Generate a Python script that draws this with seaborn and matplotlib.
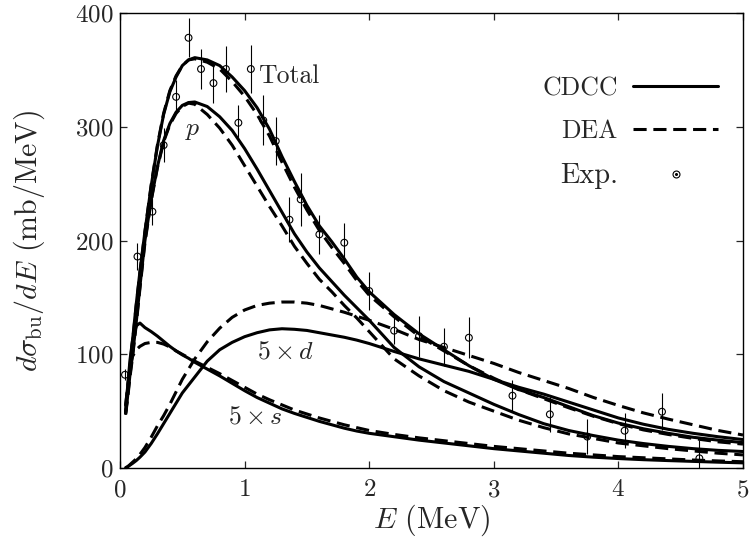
import numpy as np
import pandas as pd
import matplotlib
matplotlib.use("Agg")
import matplotlib.pyplot as plt
from matplotlib.lines import Line2D
import seaborn as sns

# ── data ─────────────────────────────────────────────────────────────────────
energy = [0.045, 0.06, 0.08, 0.1, 0.13, 0.16, 0.2, 0.25, 0.3, 0.35, 0.4, 0.45,
          0.5, 0.55, 0.6, 0.7, 0.8, 0.9, 1.0, 1.1, 1.2, 1.3, 1.4, 1.5, 1.6,
          1.7, 1.8, 1.9, 2.0, 2.2, 2.4, 2.6, 2.8, 3.0, 3.2, 3.4, 3.6, 3.8,
          4.0, 4.2, 4.4, 4.6, 4.8, 5.0]

total_cdcc = [50, 68, 90, 112, 144, 173, 208, 248, 283, 311, 331, 344,
              354, 359, 361, 359, 354, 344, 332, 317, 298, 274, 252, 231, 213,
              199, 184, 168, 155, 135, 118, 104, 90, 78, 69, 62, 54, 46,
              39.5, 34.5, 30.5, 27, 24.5, 22.3]
total_dea = [48, 64, 88, 110, 143, 172, 208, 249, 284, 312, 332, 345,
             354, 359, 360, 357, 351, 340, 327, 311, 292, 269, 247, 227, 209,
             194, 180, 165, 152, 133, 116, 103, 90, 79, 69, 61, 53, 45.5,
             39, 33.5, 29.5, 26, 23, 21]
p_cdcc = [48, 62, 82, 99, 128, 160, 200, 236, 265, 288, 303, 313,
          319, 321.5, 322, 318, 309, 297, 281, 263, 244, 225, 206, 190, 176,
          164, 152, 141, 130, 106, 89, 76, 66, 56, 47, 39, 33, 28.5,
          24.5, 21.5, 19, 17, 15.5, 14.5]
p_dea = [47, 60, 80, 97, 126, 158, 198, 235, 264, 287, 302, 312,
         318, 321, 320, 311, 299, 284, 266, 248, 230, 213, 195, 180, 166,
         155, 143, 132, 120, 96, 81, 68, 58, 50, 42, 35.5, 30, 26,
         22, 19.5, 17, 15, 13, 11.5]
d_cdcc = [0.3, 1, 2.5, 4, 6.5, 9.5, 14, 21.5, 30, 39, 48, 57,
          66, 73, 80, 94, 104, 110.5, 115.5, 119, 121.5, 122.5, 122, 121, 119,
          117, 115, 112.5, 109.5, 102.5, 96, 90.5, 85, 78, 71, 65, 58, 51,
          44, 38.5, 34, 30.5, 27.5, 25]
d_dea = [0.3, 1, 3, 5, 8, 12, 18, 27, 37, 46, 56, 67,
         78, 87, 96, 111, 123, 132.5, 139, 143, 145, 146, 146, 145, 143,
         140, 137, 133.5, 130, 122, 113, 106, 99, 92, 84, 77, 70, 62,
         55, 48.5, 43, 38, 33, 29]
s_cdcc = [55, 70, 95, 112, 125, 127.5, 123.5, 120, 116, 111.5, 107, 103,
          99.5, 96.5, 93, 87, 81, 74.5, 68, 62, 57, 52, 48, 44.5, 41,
          38, 35, 32.5, 30.5, 27.5, 24.5, 22, 19.5, 17, 15, 13, 11, 9.5,
          8.3, 7.3, 6.5, 5.8, 5.1, 4.5]
s_dea = [55, 70, 90, 98, 104, 107, 109.5, 110.5, 110.5, 109, 106.5, 103,
         100, 97, 94, 88.5, 83, 77, 71, 65, 60, 55.5, 51, 47.5, 44,
         41, 38, 35.5, 33, 29.5, 26.5, 24, 21.5, 19, 17, 15, 13, 11.5,
         10, 9, 8, 7, 6.2, 5.5]

exp_e = [0.04, 0.14, 0.26, 0.35, 0.45, 0.55, 0.65, 0.75, 0.85, 0.95, 1.05,
         1.15, 1.25, 1.36, 1.45, 1.60, 1.80, 2.00, 2.20, 2.40, 2.60, 2.80,
         3.15, 3.45, 3.75, 4.05, 4.35, 4.65]
exp_xs = [82, 186, 225.5, 284, 326.5, 378.5, 351, 338.6, 351, 303.7, 351,
          305.8, 287.6, 218.4, 236.3, 205.5, 198.2, 155.7, 120.8, 116, 106.7,
          114.6, 63.6, 47.2, 27.6, 32.8, 49.5, 8.5]
exp_err = [5, 12, 12, 15, 15, 17, 18, 17.6, 20.5, 15.4, 21,
           22, 21, 20, 23, 17, 17, 17, 12, 18, 16.6,
           18, 14, 15.4, 15.7, 15.4, 16.4, 16]

curves = {
    ("Total", "CDCC"): total_cdcc, ("Total", "DEA"): total_dea,
    ("p", "CDCC"): p_cdcc, ("p", "DEA"): p_dea,
    ("d", "CDCC"): d_cdcc, ("d", "DEA"): d_dea,
    ("s", "CDCC"): s_cdcc, ("s", "DEA"): s_dea,
}
rows = []
for (name, method), vals in curves.items():
    for e, v in zip(energy, vals):
        rows.append((f"{name}_{method}", method, e, v))
df = pd.DataFrame(rows, columns=["curve", "method", "E", "xs"])

# ── style ────────────────────────────────────────────────────────────────────
sns.set_style("ticks")
plt.rcParams.update({
    "font.family": "serif",
    "font.serif": ["cmr10"],
    "mathtext.fontset": "cm",
    "axes.formatter.use_mathtext": True,
    "axes.unicode_minus": False,
})

DASH = (4.3, 2.2)
LW = 2.2

fig, ax = plt.subplots(figsize=(7.52, 5.46), dpi=100)
fig.subplots_adjust(left=0.1596, right=0.988, bottom=0.1429, top=0.9756)

sns.lineplot(data=df, x="E", y="xs", units="curve", style="method",
             estimator=None, color="black", linewidth=LW,
             dashes={"CDCC": "", "DEA": DASH}, legend=False, ax=ax)

ax.errorbar(exp_e, exp_xs, yerr=exp_err, fmt="none", ecolor="black",
            elinewidth=0.8, capsize=0, zorder=3)
sns.scatterplot(x=exp_e, y=exp_xs, marker="o", s=24, facecolor="none",
                edgecolor="black", linewidth=0.8, zorder=4, ax=ax)

# curve labels
ax.text(1.107, 345, "Total", fontsize=18.5, va="center", ha="left")
ax.text(0.585, 297, "$p$", fontsize=18.5, va="center", ha="center")
ax.text(1.33, 102, r"$5\times d$", fontsize=18.5, va="center", ha="center")
ax.text(1.09, 45, r"$5\times s$", fontsize=18.5, va="center", ha="center")

ax.set_xlim(0, 5)
ax.set_ylim(0, 400)
ax.set_xticks([0, 1, 2, 3, 4, 5])
ax.set_yticks([0, 100, 200, 300, 400])
ax.tick_params(direction="in", top=True, right=True, length=5, width=0.9,
               labelsize=18)
ax.tick_params(axis="x", pad=8)
ax.tick_params(axis="y", pad=5)
for sp in ax.spines.values():
    sp.set_linewidth(1.0)
    sp.set_color("black")

ax.set_xlabel("$E$ (MeV)", fontsize=21.5)
ax.set_ylabel(r"$d\sigma_{\rm bu}/dE$ (mb/MeV)", fontsize=21.5)
ax.xaxis.set_label_coords(0.5, -0.077)
ax.yaxis.set_label_coords(-0.117, 0.5)

handles = [
    Line2D([], [], color="black", lw=LW),
    Line2D([], [], color="black", lw=LW, dashes=DASH),
    (Line2D([], [], ls="none", marker="o", mfc="none", mec="black", ms=5,
            mew=0.8),
     Line2D([], [], ls="none", marker="o", color="black", ms=1.2)),
]
leg = ax.legend(handles, ["CDCC", "DEA", "Exp."], loc="upper right",
                bbox_to_anchor=(0.960, 0.8615), frameon=False,
                markerfirst=False, handlelength=3.3, handletextpad=0.6,
                labelspacing=0.75, fontsize=18.5, borderaxespad=0,
                borderpad=0)
leg.get_texts()[2].set_fontsize(20.5)

fig.savefig("out.png", dpi=100, facecolor="white")
